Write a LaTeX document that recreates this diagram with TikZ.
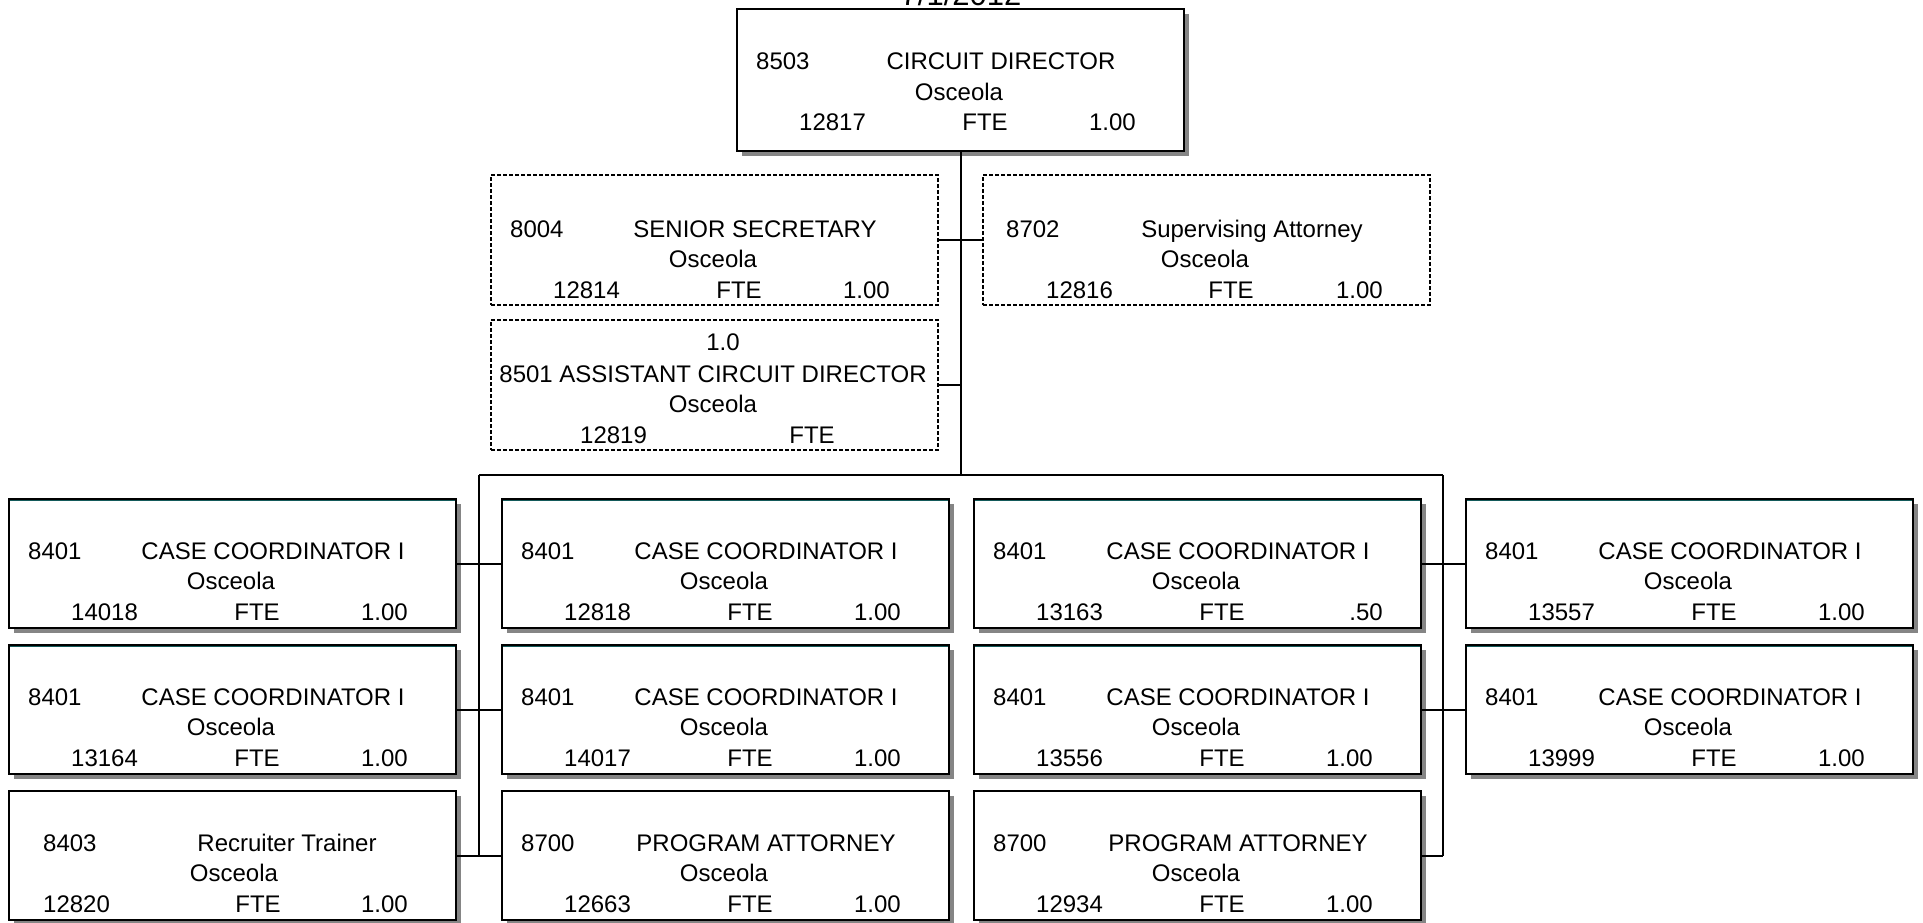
\documentclass[tikz,border=0pt]{standalone}
\usepackage{fontspec}
\setmainfont{Liberation Sans}
\usetikzlibrary{calc,shadows}

\definecolor{edgeteal}{RGB}{20,90,90}

\tikzset{
  x=1pt, y=-1pt,
  solidbox/.style={rectangle, draw=black, line width=2pt, fill=white,
    minimum width=447pt, minimum height=129pt, inner sep=0pt, outer sep=0pt,
    anchor=north west,
    drop shadow={shadow xshift=5pt, shadow yshift=-5pt, fill=black!48, opacity=1}},
  dashbox/.style={rectangle, draw=black, line width=1.3pt, dash pattern=on 4pt off 2pt,
    minimum width=447pt, minimum height=130pt, inner sep=0pt, outer sep=0pt,
    anchor=north west},
  txt/.style={inner sep=0pt, font=\fontsize{24}{31}\selectfont},
  link/.style={draw=black, line width=2pt},
  topedge/.style={draw=edgeteal, line width=1pt},
}

% baselines of the three text rows, measured from the top of a box
\def\rowA{62}\def\rowB{92}\def\rowC{123}
% standard four-column layout of a position box
\newcommand\boxtext[5]{%
  \node[txt, anchor=base west] (#1-code)  at ($(#1.north west)+(19,\rowA)$) {#2};
  \node[txt, anchor=base]      (#1-title) at ($(#1.north west)+(264,\rowA)$) {#3};
  \node[txt, anchor=base]      (#1-loc)   at ($(#1.north west)+(222,\rowB)$) {Osceola};
  \node[txt, anchor=base west] (#1-num)   at ($(#1.north west)+(62,\rowC)$) {#4};
  \node[txt, anchor=base]      (#1-fte)   at ($(#1.north west)+(248,\rowC)$) {FTE};
  \node[txt, anchor=base east] (#1-val)   at ($(#1.north west)+(399,\rowC)$) {#5};
}
\newcommand\tealtop[1]{\draw[topedge] ($(#1.north west)+(1,1.5)$) -- ($(#1.north east)+(-1,1.5)$);}

\begin{document}
\begin{tikzpicture}
\useasboundingbox (0,0) rectangle (1923,922);

% date heading, mostly above the page edge
\node[txt, font=\fontsize{31}{31}\selectfont, anchor=base] (date) at (961,5) {7/1/2012};

% director
\node[solidbox, minimum height=142pt] (dir) at (737,9) {};
{\def\rowA{60}\def\rowB{91}\def\rowC{121}
 \boxtext{dir}{8503}{CIRCUIT DIRECTOR}{12817}{1.00}}

% staff boxes
\node[dashbox] (sec) at (491,175) {};
\boxtext{sec}{8004}{SENIOR SECRETARY}{12814}{1.00}
\node[dashbox] (sup) at (983,175) {};
\node[txt, anchor=base west] (sup-code)  at ($(sup.north west)+(23,\rowA)$) {8702};
\node[txt, anchor=base]      (sup-title) at ($(sup.north west)+(269,\rowA)$) {Supervising Attorney};
\node[txt, anchor=base]      (sup-loc)   at ($(sup.north west)+(222,\rowB)$) {Osceola};
\node[txt, anchor=base west] (sup-num)   at ($(sup.north west)+(63,\rowC)$) {12816};
\node[txt, anchor=base]      (sup-fte)   at ($(sup.north west)+(248,\rowC)$) {FTE};
\node[txt, anchor=base east] (sup-val)   at ($(sup.north west)+(400,\rowC)$) {1.00};

\node[dashbox] (asst) at (491,320) {};
\node[txt, anchor=base] (asst-fte1)  at ($(asst.north west)+(232,30)$) {1.0};
\node[txt, anchor=base] (asst-title) at ($(asst.north west)+(222,\rowA)$) {8501 ASSISTANT CIRCUIT DIRECTOR};
\node[txt, anchor=base] (asst-loc)   at ($(asst.north west)+(222,\rowB)$) {Osceola};
\node[txt, anchor=base west] (asst-num) at ($(asst.north west)+(89,\rowC)$) {12819};
\node[txt, anchor=base] (asst-fte)   at ($(asst.north west)+(321,\rowC)$) {FTE};

% field staff, three rows of up to four boxes
\def\rowA{60}\def\rowB{90}\def\rowC{121}
\node[solidbox] (r1c1) at (9,499) {};
\boxtext{r1c1}{8401}{CASE COORDINATOR I}{14018}{1.00}
\node[solidbox] (r1c2) at (502,499) {};
\boxtext{r1c2}{8401}{CASE COORDINATOR I}{12818}{1.00}
\node[solidbox] (r1c3) at (974,499) {};
\boxtext{r1c3}{8401}{CASE COORDINATOR I}{13163}{}
\node[txt, anchor=base east] (r1c3-half) at ($(r1c3.north west)+(409,\rowC)$) {.50};
\node[solidbox] (r1c4) at (1466,499) {};
\boxtext{r1c4}{8401}{CASE COORDINATOR I}{13557}{1.00}

\node[solidbox] (r2c1) at (9,645) {};
\boxtext{r2c1}{8401}{CASE COORDINATOR I}{13164}{1.00}
\node[solidbox] (r2c2) at (502,645) {};
\boxtext{r2c2}{8401}{CASE COORDINATOR I}{14017}{1.00}
\node[solidbox] (r2c3) at (974,645) {};
\boxtext{r2c3}{8401}{CASE COORDINATOR I}{13556}{1.00}
\node[solidbox] (r2c4) at (1466,645) {};
\boxtext{r2c4}{8401}{CASE COORDINATOR I}{13999}{1.00}

\node[solidbox] (r3c1) at (9,791) {};
\node[txt, anchor=base west] (r3c1-code)  at ($(r3c1.north west)+(34,\rowA)$) {8403};
\node[txt, anchor=base]      (r3c1-title) at ($(r3c1.north west)+(278,\rowA)$) {Recruiter Trainer};
\node[txt, anchor=base]      (r3c1-loc)   at ($(r3c1.north west)+(225,\rowB)$) {Osceola};
\node[txt, anchor=base west] (r3c1-num)   at ($(r3c1.north west)+(34,\rowC)$) {12820};
\node[txt, anchor=base]      (r3c1-fte)   at ($(r3c1.north west)+(249,\rowC)$) {FTE};
\node[txt, anchor=base east] (r3c1-val)   at ($(r3c1.north west)+(399,\rowC)$) {1.00};
\node[solidbox] (r3c2) at (502,791) {};
\boxtext{r3c2}{8700}{PROGRAM ATTORNEY}{12663}{1.00}
\node[solidbox] (r3c3) at (974,791) {};
\boxtext{r3c3}{8700}{PROGRAM ATTORNEY}{12934}{1.00}

\foreach \b in {r1c1,r1c2,r1c3,r1c4,r2c1,r2c2,r2c3,r2c4} {\tealtop{\b}}

% reporting lines
\coordinate (busL) at (479,475);
\coordinate (busR) at (1443,475);
\draw[link] (dir.south) -- (dir.south |- busL);
\draw[link] (busL) -- (busR);
\draw[link] (sec.east) -- (sup.west);
\draw[link] (asst.east) -- (asst.east -| dir.south);
\draw[link] (busL) -- (busL |- r3c1.east);
\draw[link] (busR) -- (busR |- r3c3.east);
\draw[link] (r1c1.east) -- (r1c2.west);
\draw[link] (r2c1.east) -- (r2c2.west);
\draw[link] (r3c1.east) -- (r3c2.west);
\draw[link] (r1c3.east) -- (r1c4.west);
\draw[link] (r2c3.east) -- (r2c4.west);
\draw[link] (r3c3.east) -- (busR |- r3c3.east);
\end{tikzpicture}
\end{document}
